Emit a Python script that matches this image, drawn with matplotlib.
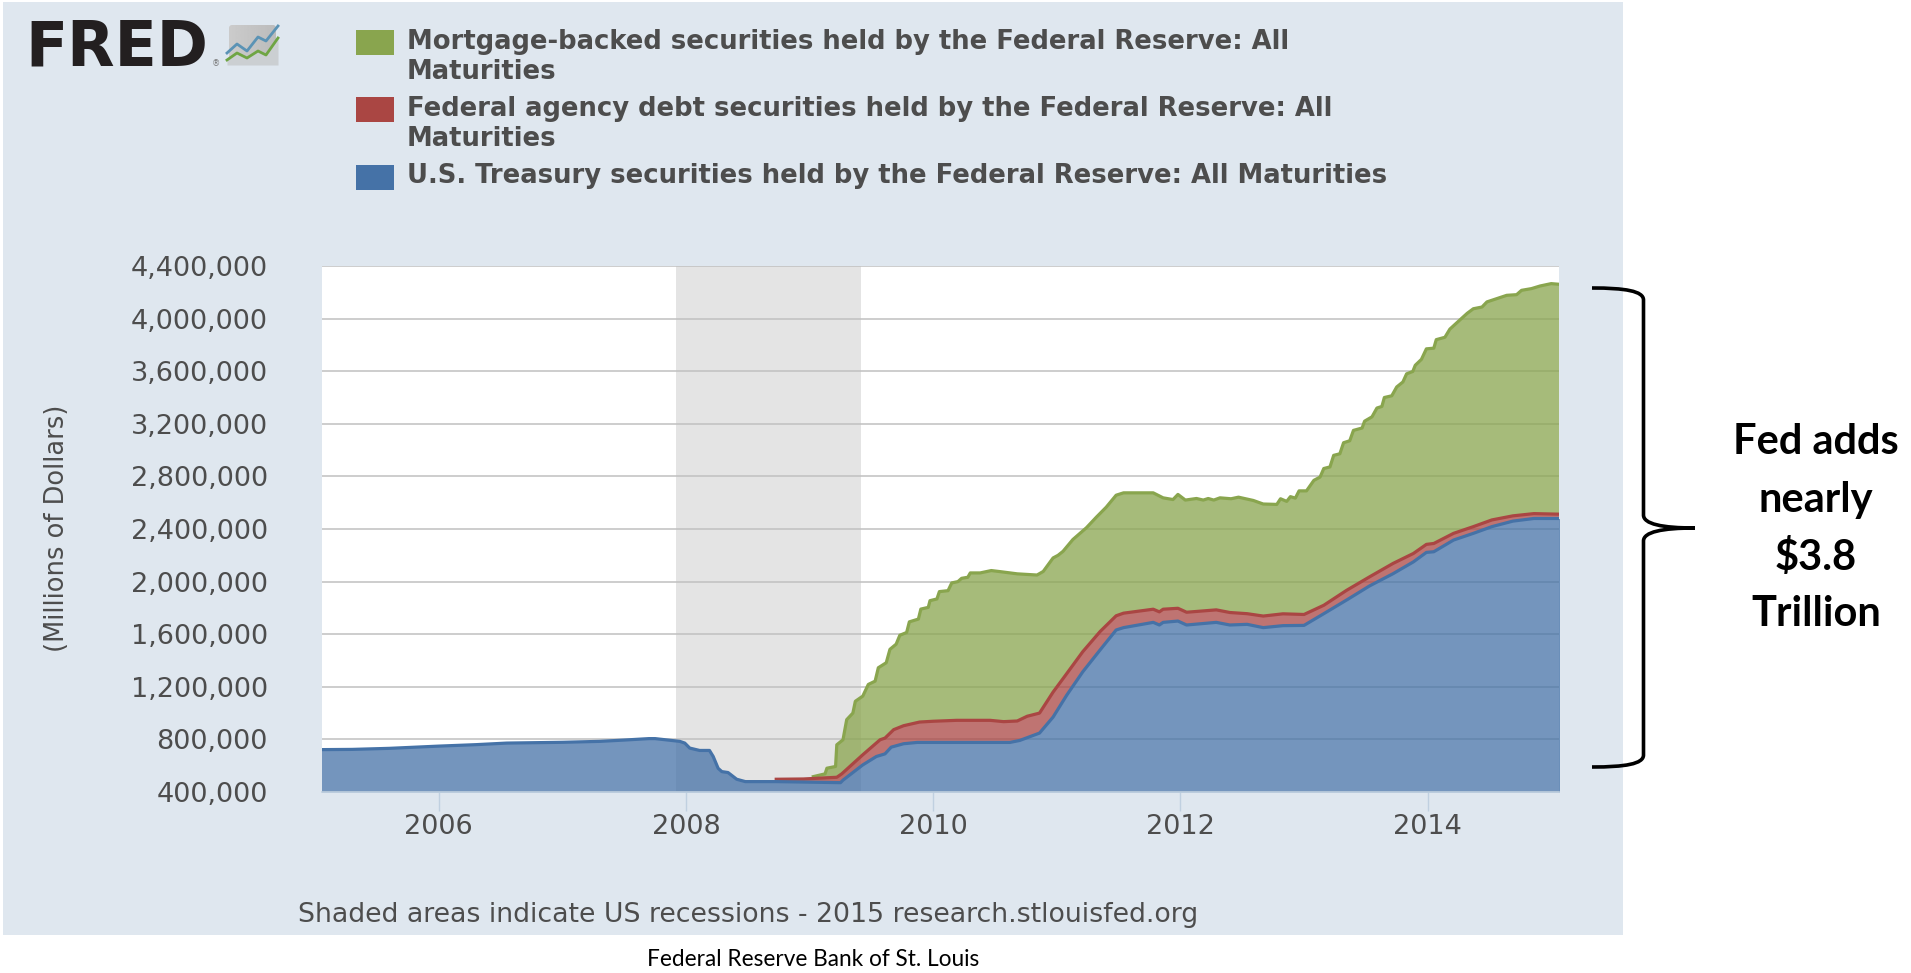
#!/usr/bin/env python3
import matplotlib
matplotlib.use('Agg')
import matplotlib.pyplot as plt
import numpy as np
from matplotlib.patches import FancyBboxPatch, PathPatch, Rectangle
from matplotlib.path import Path

# Stack tops, millions of dollars, dates in decimal years
treasury_dates = [
    2005.00, 2005.30, 2005.60, 2006.00, 2006.30, 2006.55, 2007.00, 2007.30, 2007.50, 2007.70,
    2007.75, 2007.95, 2007.99, 2008.03, 2008.11, 2008.19, 2008.22, 2008.26, 2008.29, 2008.34,
    2008.41, 2008.48, 2008.73, 2009.25, 2009.27, 2009.43, 2009.54, 2009.61, 2009.66, 2009.76,
    2009.87, 2010.00, 2010.62, 2010.70, 2010.86, 2010.97, 2011.08, 2011.21, 2011.35, 2011.48,
    2011.54, 2011.78, 2011.83, 2011.86, 2011.98, 2012.05, 2012.29, 2012.40, 2012.54, 2012.67,
    2012.83, 2013.00, 2013.16, 2013.35, 2013.53, 2013.72, 2013.885, 2013.99, 2014.05, 2014.21,
    2014.37, 2014.52, 2014.69, 2014.86, 2015.10,
]
treasury_top = [
    722000, 724000, 732000, 749000, 760000, 772000, 778000, 785000, 795000, 806000,
    806000, 785000, 772000, 734000, 716000, 716000, 670000, 580000, 555000, 548000,
    497000, 479000, 479000, 471000, 490000, 606000, 670000, 690000, 741000, 767000,
    777000, 777000, 777000, 792000, 848000, 970000, 1136000, 1314000, 1480000, 1632000,
    1650000, 1690000, 1670000, 1690000, 1700000, 1670000, 1690000, 1670000, 1675000, 1650000,
    1665000, 1667000, 1756000, 1863000, 1967000, 2060000, 2150000, 2222000, 2227000, 2316000,
    2367000, 2418000, 2460000, 2480000, 2480000,
]

agency_dates = [
    2008.73, 2008.95, 2009.22, 2009.26, 2009.43, 2009.57, 2009.61, 2009.68, 2009.76, 2009.89,
    2010.00, 2010.19, 2010.46, 2010.57, 2010.68, 2010.76, 2010.86, 2010.97, 2011.08, 2011.21,
    2011.35, 2011.48, 2011.54, 2011.78, 2011.83, 2011.86, 2011.98, 2012.05, 2012.29, 2012.40,
    2012.54, 2012.67, 2012.83, 2013.00, 2013.16, 2013.345, 2013.53, 2013.72, 2013.885, 2013.99,
    2014.05, 2014.21, 2014.37, 2014.52, 2014.69, 2014.86, 2015.10,
]
agency_top = [
    497000, 499000, 512000, 538000, 683000, 797000, 810000, 874000, 904000, 932000,
    938000, 945000, 945000, 935000, 940000, 976000, 1000000, 1160000, 1300000, 1467000,
    1620000, 1740000, 1760000, 1790000, 1770000, 1790000, 1797000, 1767000, 1785000, 1765000,
    1756000, 1738000, 1755000, 1750000, 1820000, 1934000, 2036000, 2138000, 2214000, 2283000,
    2290000, 2367000, 2418000, 2469000, 2500000, 2517000, 2512000,
]

mbs_dates = [
    2009.03, 2009.125, 2009.14, 2009.21, 2009.22, 2009.27, 2009.30, 2009.35, 2009.37, 2009.43,
    2009.475, 2009.53, 2009.556, 2009.62, 2009.65, 2009.70, 2009.73, 2009.785, 2009.807, 2009.88,
    2009.90, 2009.96, 2009.974, 2010.03, 2010.05, 2010.12, 2010.15, 2010.20, 2010.23, 2010.28,
    2010.30, 2010.38, 2010.47, 2010.54, 2010.68, 2010.84, 2010.89, 2010.97, 2011.01, 2011.05,
    2011.13, 2011.24, 2011.32, 2011.40, 2011.48, 2011.54, 2011.78, 2011.86, 2011.94, 2011.98,
    2012.04, 2012.13, 2012.185, 2012.225, 2012.27, 2012.32, 2012.41, 2012.47, 2012.59, 2012.67,
    2012.78, 2012.81, 2012.86, 2012.89, 2012.93, 2012.96, 2013.02, 2013.08, 2013.13, 2013.16,
    2013.21, 2013.24, 2013.29, 2013.32, 2013.37, 2013.40, 2013.47, 2013.49, 2013.55, 2013.59,
    2013.63, 2013.65, 2013.71, 2013.75, 2013.80, 2013.83, 2013.88, 2013.90, 2013.95, 2013.99,
    2014.05, 2014.07, 2014.14, 2014.18, 2014.23, 2014.32, 2014.37, 2014.44, 2014.48, 2014.56,
    2014.64, 2014.72, 2014.76, 2014.84, 2014.91, 2015.00, 2015.10,
]
mbs_top = [
    517000, 538000, 581000, 594000, 759000, 797000, 950000, 1000000, 1090000, 1129000,
    1218000, 1243000, 1345000, 1383000, 1485000, 1524000, 1592000, 1613000, 1694000, 1715000,
    1791000, 1804000, 1855000, 1868000, 1924000, 1931000, 1990000, 2000000, 2025000, 2033000,
    2066000, 2066000, 2084000, 2076000, 2059000, 2050000, 2077000, 2180000, 2200000, 2230000,
    2320000, 2410000, 2490000, 2566000, 2657000, 2675000, 2675000, 2637000, 2624000, 2663000,
    2620000, 2632000, 2620000, 2632000, 2620000, 2637000, 2630000, 2642000, 2617000, 2590000,
    2587000, 2630000, 2610000, 2646000, 2635000, 2690000, 2690000, 2770000, 2795000, 2860000,
    2872000, 2960000, 2972000, 3056000, 3071000, 3150000, 3168000, 3220000, 3253000, 3320000,
    3332000, 3400000, 3413000, 3480000, 3518000, 3580000, 3598000, 3645000, 3690000, 3770000,
    3775000, 3840000, 3858000, 3920000, 3963000, 4040000, 4075000, 4088000, 4127000, 4152000,
    4177000, 4182000, 4215000, 4228000, 4248000, 4266000, 4258000,
]

recession = [2007.923, 2009.413]

y_ticks = [400000, 800000, 1200000, 1600000, 2000000, 2400000, 2800000,
           3200000, 3600000, 4000000, 4400000]
x_ticks = [2006, 2008, 2010, 2012, 2014]

legend_labels = [
    'Mortgage-backed securities held by the Federal Reserve: All\nMaturities',
    'Federal agency debt securities held by the Federal Reserve: All\nMaturities',
    'U.S. Treasury securities held by the Federal Reserve: All Maturities',
]

W, H = 1911, 973
GREEN = '#89A54E'
RED = '#AA4643'
BLUE = '#4572A7'
PANEL = '#DFE7EF'
TEXT = '#4D4D4D'


def draw_page(page):
    page.add_patch(Rectangle((3, 2), 1620, 933, color=PANEL, lw=0, zorder=0))

    # Logo
    page.text(25, 66, 'FRED', fontsize=44.5, fontweight='bold', color='#231F20',
              family='DejaVu Sans', va='baseline', ha='left')
    page.text(216, 66, '®', fontsize=6, color='#777777', va='baseline', ha='center')
    grad = np.linspace(0, 1, 64).reshape(1, -1)
    im = page.imshow(grad, extent=(227, 278, 65, 23), cmap='gray_r', vmin=-3, vmax=12,
                     aspect='auto', zorder=2)
    box = FancyBboxPatch((229, 25), 47, 38, boxstyle='round,pad=0,rounding_size=3',
                         fc='none', ec='none', transform=page.transData)
    page.add_patch(box)
    im.set_clip_path(box)
    gx = [227, 237, 247, 258, 266, 278]
    page.fill_between(gx, [60, 53, 58, 51, 55, 38], [65] * 6, color='#CBCFD2', lw=0, zorder=3)
    page.plot(gx, [53, 44, 51, 37, 41, 26], color='#5B93B5', lw=2, zorder=4)
    page.plot(gx, [60, 53, 58, 51, 55, 38], color='#6FA544', lw=2, zorder=4)

    # Legend
    swatch_y = [30, 97, 165]
    text_y = [43, 110, 177]
    for y, ty, col, label in zip(swatch_y, text_y, [GREEN, RED, BLUE], legend_labels):
        page.add_patch(Rectangle((356, y), 38, 25, color=col, lw=0, zorder=2))
        page.text(407, ty, label, fontsize=18.6, fontweight='bold', color=TEXT,
                  va='top', ha='left', linespacing=1.22, transform=page.transData,
                  verticalalignment='center_baseline' if False else 'top').set_y(ty - 14)

    # Axis caption and footers
    page.text(57, 528, '(Millions of Dollars)', fontsize=18.5, color=TEXT, rotation=90,
              ha='center', va='center')
    page.text(298, 915, 'Shaded areas indicate US recessions - 2015 research.stlouisfed.org',
              fontsize=19.3, color=TEXT, ha='left', va='center')
    page.text(813, 960, 'Federal Reserve Bank of St. Louis', fontsize=16.3, color='black',
              family='Lato', ha='center', va='center')

    # Brace
    verts = [(1592, 288), (1625, 288), (1643.5, 291), (1643.5, 300),
             (1643.5, 515),
             (1643.5, 524), (1662, 528), (1695, 528),
             (1662, 528), (1643.5, 532), (1643.5, 541),
             (1643.5, 755),
             (1643.5, 764), (1625, 767), (1592, 767)]
    codes = [Path.MOVETO, Path.CURVE4, Path.CURVE4, Path.CURVE4,
             Path.LINETO,
             Path.CURVE4, Path.CURVE4, Path.CURVE4,
             Path.CURVE4, Path.CURVE4, Path.CURVE4,
             Path.LINETO,
             Path.CURVE4, Path.CURVE4, Path.CURVE4]
    page.add_patch(PathPatch(Path(verts, codes), fc='none', ec='black', lw=2.6, zorder=5))

    for y, line in zip([442, 500, 557, 614], ['Fed adds', 'nearly', '$3.8', 'Trillion']):
        page.text(1816, y, line, fontsize=30, fontweight='bold', color='black',
                  family='Lato', ha='center', va='center')


def draw_chart(ax):
    ax.set_facecolor('white')
    ax.axvspan(recession[0], recession[1], color='#E4E4E4', lw=0, zorder=0)
    ax.set_yticks(y_ticks, [f'{v:,}' for v in y_ticks])
    ax.set_xticks(x_ticks, [str(v) for v in x_ticks])
    ax.grid(axis='y', color='#C0C0C0', lw=1.1, zorder=1)
    ax.set_axisbelow(True)

    base = y_ticks[0]
    a_dates, a_top = np.array(agency_dates), np.array(agency_top)
    keep = a_dates >= mbs_dates[0]

    # Bands, each one from the top of the stack below it
    ax.fill(list(mbs_dates) + list(a_dates[keep][::-1]),
            list(mbs_top) + list(a_top[keep][::-1]),
            color=GREEN, alpha=0.75, lw=0, zorder=2)
    t_dates, t_top = np.array(treasury_dates), np.array(treasury_top)
    keep = t_dates >= agency_dates[0]
    ax.fill(list(agency_dates) + list(t_dates[keep][::-1]),
            list(agency_top) + list(t_top[keep][::-1]),
            color=RED, alpha=0.75, lw=0, zorder=2)
    ax.fill_between(treasury_dates, treasury_top, base, color=BLUE, alpha=0.75, lw=0, zorder=2)

    ax.plot(mbs_dates, mbs_top, color=GREEN, lw=2.3, zorder=3)
    ax.plot(agency_dates, agency_top, color=RED, lw=2.3, zorder=3)
    ax.plot(treasury_dates, treasury_top, color=BLUE, lw=2.3, zorder=3)

    ax.set_xlim(2005.055, 2015.063)
    ax.set_ylim(base, y_ticks[-1])
    for side in ['top', 'left', 'right']:
        ax.spines[side].set_visible(False)
    ax.spines['bottom'].set_color('#C0D0E0')
    ax.spines['bottom'].set_linewidth(1.2)
    ax.tick_params(axis='y', length=0, pad=39, labelsize=19.5, labelcolor=TEXT)
    ax.tick_params(axis='x', length=14, width=1, color='#C0D0E0', pad=2, labelsize=19.5,
                   labelcolor=TEXT)


def main():
    fig = plt.figure(figsize=(W / 100, H / 100), dpi=100, facecolor='white')

    # Page layer in pixel coordinates for everything around the plot
    page = fig.add_axes([0, 0, 1, 1], zorder=0)
    page.set_xlim(0, W)
    page.set_ylim(H, 0)
    page.axis('off')
    draw_page(page)
    page.set_xlim(0, W)
    page.set_ylim(H, 0)

    left, right, top, bottom = 322, 1559, 266, 792
    ax = fig.add_axes([left / W, 1 - bottom / H, (right - left) / W, (bottom - top) / H], zorder=1)
    draw_chart(ax)

    fig.savefig('out.png', dpi=100)


if __name__ == '__main__':
    main()
